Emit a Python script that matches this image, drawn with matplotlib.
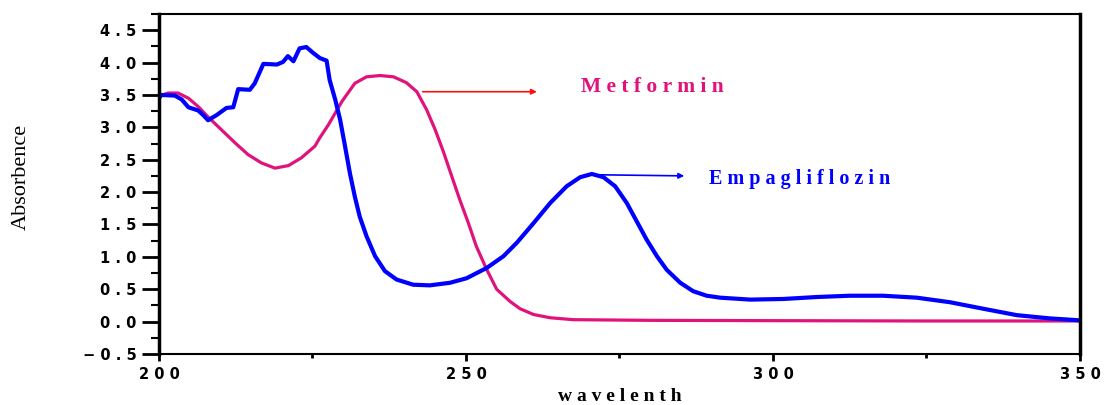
import matplotlib.pyplot as plt
from matplotlib.ticker import MultipleLocator, FuncFormatter

# data (wavelength, absorbance)
emp_x = [200, 200.4, 202.6, 203.7, 204.8, 206.4, 207.2, 208.0, 209.4, 211.0, 212.1,
         212.9, 214.8, 215.6, 217.0, 219.2, 220.2, 221.0, 221.9, 222.9, 224.0,
         225.1, 226.2, 227.3, 227.8, 228.7, 229.5, 230.3, 231.1, 231.9, 232.7,
         233.8, 235.2, 236.8, 238.7, 241.4, 244.1, 247.4, 250.1, 253.4, 256.1,
         258.3, 261.0, 263.7, 266.4, 268.6, 270.5, 272.4, 274.3, 276.2, 277.8,
         279.4, 281.1, 282.7, 284.9, 287.0, 289.2, 291.4, 296.3, 301.7, 307.1,
         312.5, 317.9, 323.4, 328.8, 334.2, 339.7, 345.1, 350]
emp_y = [3.45, 3.50, 3.49, 3.43, 3.31, 3.26, 3.19, 3.11, 3.19, 3.30, 3.31,
         3.59, 3.58, 3.68, 3.98, 3.97, 4.01, 4.10, 4.02, 4.22, 4.24,
         4.15, 4.07, 4.03, 3.73, 3.43, 3.12, 2.71, 2.29, 1.93, 1.62,
         1.32, 1.01, 0.78, 0.65, 0.57, 0.56, 0.60, 0.67, 0.83, 1.01,
         1.22, 1.52, 1.83, 2.09, 2.23, 2.28, 2.23, 2.09, 1.83, 1.55,
         1.27, 1.01, 0.80, 0.60, 0.47, 0.40, 0.37, 0.34, 0.35, 0.38,
         0.40, 0.40, 0.37, 0.30, 0.20, 0.10, 0.05, 0.02]

met_x = [200, 201.5, 203.1, 204.8, 206.4, 208.0, 210.2, 212.4, 214.5, 216.7, 218.9,
         221.1, 223.2, 225.4, 226.2, 227.6, 229.8, 231.9, 233.8, 236.0, 238.2,
         240.3, 242.0, 243.6, 245.0, 246.3, 247.7, 249.0, 250.4, 251.7, 253.4,
         255.0, 257.2, 258.8, 261.0, 263.7, 267.5, 280, 300, 325, 350]
met_y = [3.48, 3.53, 3.53, 3.45, 3.32, 3.16, 2.96, 2.76, 2.58, 2.45, 2.37,
         2.41, 2.53, 2.71, 2.84, 3.04, 3.40, 3.68, 3.78, 3.80, 3.78,
         3.69, 3.55, 3.27, 2.96, 2.63, 2.24, 1.88, 1.52, 1.16, 0.80,
         0.50, 0.31, 0.20, 0.11, 0.06, 0.03, 0.02, 0.015, 0.01, 0.01]


def spaced(v, _pos=None, fmt='{:.1f}'):
    s = fmt.format(v).replace('-', '\u2212')
    return ' '.join(s)


def main():
    fig = plt.figure(figsize=(11.07, 4.05), dpi=100)
    ax = fig.add_axes([0.1436, 0.1259, 0.832, 0.8395])

    ax.plot(met_x, met_y, color='#E0127C', lw=2.3, solid_capstyle='round')
    ax.plot(emp_x, emp_y, color='#0000FF', lw=3.0, solid_capstyle='round')

    # labels with arrows
    ax.annotate('', xy=(262.0, 3.55), xytext=(242.5, 3.55),
                arrowprops=dict(arrowstyle='-|>', color='#FF1010', lw=1.2,
                                mutation_scale=8))
    ax.text(268.8, 3.62, 'M e t f o r m i n', color='#E0127C', fontsize=15.5,
            fontweight='bold', family='Liberation Serif', va='center')
    ax.annotate('', xy=(286.0, 2.25), xytext=(269.4, 2.27),
                arrowprops=dict(arrowstyle='-|>', color='#0000FF', lw=1.2,
                                mutation_scale=8))
    ax.text(289.6, 2.20, 'E m p a g l i f l o z i n', color='#0000FF',
            fontsize=14.5, fontweight='bold', family='Liberation Serif',
            va='center')

    ax.set_xlim(200, 350)
    ax.set_ylim(-0.5, 4.75)
    ax.xaxis.set_major_locator(MultipleLocator(50))
    ax.xaxis.set_minor_locator(MultipleLocator(25))
    ax.yaxis.set_major_locator(MultipleLocator(0.5))
    ax.yaxis.set_minor_locator(MultipleLocator(0.25))
    ax.yaxis.set_major_formatter(FuncFormatter(spaced))
    ax.xaxis.set_major_formatter(FuncFormatter(lambda v, p: spaced(v, p, '{:.0f}')))
    ax.tick_params(axis='y', which='major', direction='out', length=12, width=2,
                   labelsize=10.5, pad=4)
    ax.tick_params(axis='y', which='minor', direction='out', length=6, width=1.5)
    ax.tick_params(axis='x', which='major', direction='out', length=5, width=2,
                   labelsize=10.5, pad=4)
    ax.tick_params(axis='x', which='minor', direction='out', length=3, width=2)
    for lab in ax.get_xticklabels() + ax.get_yticklabels():
        lab.set_fontweight('bold')
        lab.set_family('DejaVu Sans')

    ax.spines['left'].set_linewidth(2.5)
    ax.spines['right'].set_linewidth(2.5)
    ax.spines['bottom'].set_linewidth(1.5)
    ax.spines['top'].set_linewidth(1.5)

    ax.set_xlabel('w a v e l e n t h', fontsize=14, fontweight='bold',
                  family='Liberation Serif', labelpad=5)
    ax.set_ylabel('Absorbence', fontsize=16, family='Liberation Serif')
    ax.yaxis.set_label_coords(-0.139, 0.52)

    fig.savefig('out.png', dpi=100)


if __name__ == "__main__":
    main()
